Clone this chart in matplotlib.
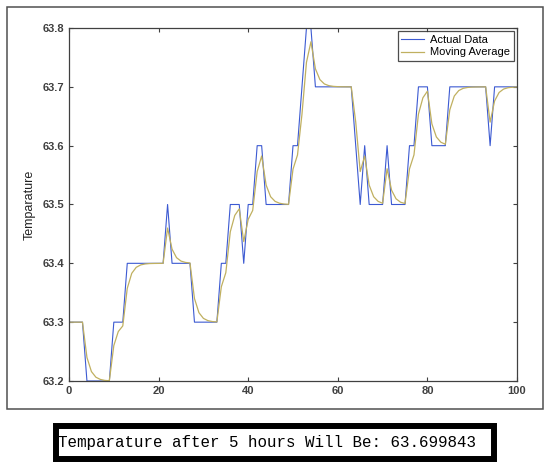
import matplotlib
matplotlib.use("Agg")
import matplotlib.pyplot as plt
from matplotlib.patches import Rectangle

# sample index (0..100)
x = list(range(101))

# actual temperature readings
actual = [63.3, 63.3, 63.3, 63.3, 63.2, 63.2, 63.2, 63.2, 63.2, 63.2,
          63.3, 63.3, 63.3, 63.4, 63.4, 63.4, 63.4, 63.4, 63.4, 63.4,
          63.4, 63.4, 63.5, 63.4, 63.4, 63.4, 63.4, 63.4, 63.3, 63.3,
          63.3, 63.3, 63.3, 63.3, 63.4, 63.4, 63.5, 63.5, 63.5, 63.4,
          63.5, 63.5, 63.6, 63.6, 63.5, 63.5, 63.5, 63.5, 63.5, 63.5,
          63.6, 63.6, 63.7, 63.8, 63.8, 63.7, 63.7, 63.7, 63.7, 63.7,
          63.7, 63.7, 63.7, 63.7, 63.6, 63.5, 63.6, 63.5, 63.5, 63.5,
          63.5, 63.6, 63.5, 63.5, 63.5, 63.5, 63.6, 63.6, 63.7, 63.7,
          63.7, 63.6, 63.6, 63.6, 63.6, 63.7, 63.7, 63.7, 63.7, 63.7,
          63.7, 63.7, 63.7, 63.7, 63.6, 63.7, 63.7, 63.7, 63.7, 63.7,
          63.7]

# smoothed curve
moving_avg = [63.3, 63.3, 63.3, 63.3, 63.24, 63.216, 63.2064, 63.2026, 63.201, 63.2004,
              63.2602, 63.2841, 63.2936, 63.3574, 63.383, 63.3932, 63.3973, 63.3989, 63.3996, 63.3998,
              63.3999, 63.4, 63.46, 63.424, 63.4096, 63.4038, 63.4015, 63.4006, 63.3402, 63.3161,
              63.3064, 63.3026, 63.301, 63.3004, 63.3602, 63.3841, 63.4536, 63.4815, 63.4926, 63.437,
              63.4748, 63.4899, 63.556, 63.5824, 63.533, 63.5132, 63.5053, 63.5021, 63.5008, 63.5003,
              63.5601, 63.5841, 63.6536, 63.7415, 63.7766, 63.7306, 63.7123, 63.7049, 63.702, 63.7008,
              63.7003, 63.7001, 63.7, 63.7, 63.64, 63.556, 63.5824, 63.533, 63.5132, 63.5053,
              63.5021, 63.5608, 63.5243, 63.5097, 63.5039, 63.5016, 63.5606, 63.5843, 63.6537, 63.6815,
              63.6926, 63.637, 63.6148, 63.6059, 63.6024, 63.6609, 63.6844, 63.6937, 63.6975, 63.699,
              63.6996, 63.6998, 63.6999, 63.7, 63.64, 63.676, 63.6904, 63.6962, 63.6985, 63.6994,
              63.6998]

x_ticks = [0, 20, 40, 60, 80, 100]
y_ticks = [63.2, 63.3, 63.4, 63.5, 63.6, 63.7, 63.8]

plt.rcParams['font.family'] = ['Liberation Sans', 'DejaVu Sans']

fig = plt.figure(figsize=(5.5, 4.7), dpi=100)
ax = fig.add_axes([0.1255, 0.1894, 0.8145, 0.751])

ax.plot(x, actual, color='#3c5ad2', linewidth=0.8, label='Actual Data')
ax.plot(x, moving_avg, color='#c0b060', linewidth=0.9, label='Moving Average')

ax.set_xlim(0, 100)
ax.set_ylim(63.2, 63.8)
ax.set_xticks(x_ticks)
ax.set_yticks(y_ticks)
ax.set_yticklabels([f"{v:.1f}" for v in y_ticks])
ax.tick_params(direction='in', length=3, width=0.8, top=True, right=True,
               labelsize=8, labelcolor='#404040', colors='#404040')
for lab in ax.get_xticklabels() + ax.get_yticklabels():
    lab.set_fontweight('bold')
for sp in ax.spines.values():
    sp.set_color('#404040')
    sp.set_linewidth(0.9)

ax.set_ylabel('Temparature', fontsize=9, color='#222222', labelpad=5)

leg = ax.legend(loc='upper right', fontsize=8, frameon=True, fancybox=False,
                handlelength=2.0, borderaxespad=0.3, borderpad=0.3,
                labelspacing=0.25, handletextpad=0.6)
leg.get_frame().set_edgecolor('#202020')
leg.get_frame().set_linewidth(0.9)

# outer frame around the figure window
fig.patches.append(Rectangle((0.0127, 0.1298), 0.9745, 0.855, transform=fig.transFigure,
                             fill=False, edgecolor='#505050', linewidth=1.1))

# console output box
fig.patches.append(Rectangle((0.1018, 0.0234), 0.796, 0.0702, transform=fig.transFigure,
                             fill=False, edgecolor='black', linewidth=4.3))
fig.text(0.4855, 0.0585, 'Temparature after 5 hours Will Be: 63.699843',
         family='Liberation Mono', fontsize=11.4, ha='center', va='center', color='black')

fig.savefig('out.png', dpi=100)
